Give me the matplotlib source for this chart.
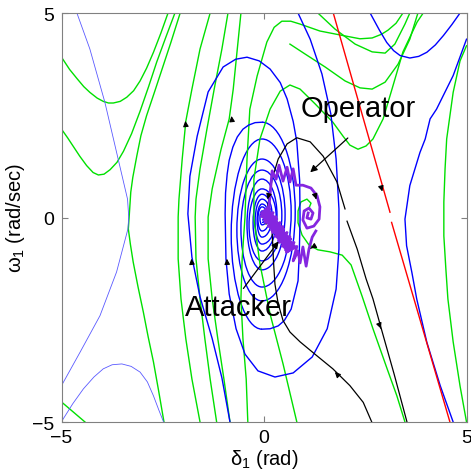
"""Phase portrait: attacker vs operator trajectories in the (delta1, omega1) plane."""
import matplotlib
matplotlib.use("Agg")
import matplotlib.pyplot as plt
from matplotlib.patches import Arc

plt.rcParams["font.family"] = ["Liberation Sans", "DejaVu Sans"]
plt.rcParams["mathtext.fontset"] = "custom"
plt.rcParams["mathtext.rm"] = "Liberation Sans"
plt.rcParams["mathtext.it"] = "Liberation Sans"

# ── traced curves, (delta1, omega1) pairs ────────────────────────────────────
# green family (post-operator system)
green_a = [(-5.0, 3.92), (-4.80, 3.62), (-4.62, 3.40), (-4.45, 3.20), (-4.30, 3.06), (-4.12, 2.92),
           (-3.97, 2.84), (-3.84, 2.80), (-3.72, 2.80), (-3.55, 2.84), (-3.39, 2.94), (-3.22, 3.10),
           (-3.06, 3.34), (-2.90, 3.65), (-2.73, 4.04), (-2.55, 4.50), (-2.37, 5.0)]
green_b = [(-5.0, 2.16), (-4.85, 1.95), (-4.71, 1.74), (-4.55, 1.50), (-4.38, 1.27), (-4.22, 1.10),
           (-4.09, 1.04), (-3.95, 1.06), (-3.80, 1.17), (-3.63, 1.35), (-3.47, 1.62), (-3.27, 2.05),
           (-3.06, 2.60), (-2.85, 3.20), (-2.65, 3.80), (-2.42, 4.42), (-2.20, 5.0)]
green_c = [(-2.07, 5.0), (-2.30, 4.28), (-2.49, 3.71), (-2.70, 3.08), (-2.90, 2.49), (-3.04, 2.00),
           (-3.14, 1.51), (-3.24, 0.98), (-3.29, 0.62), (-3.33, 0.01), (-3.35, -0.28), (-3.30, -0.65),
           (-3.23, -1.09), (-3.11, -1.70), (-2.98, -2.31), (-2.86, -2.92), (-2.73, -3.53), (-2.60, -4.25),
           (-2.47, -5.0)]
green_corner = [(-5.0, -4.51), (-4.42, -5.0)]
green_d = [(-1.33, 5.0), (-1.58, 4.12), (-1.78, 3.14), (-1.93, 2.36), (-2.02, 1.43), (-2.10, 0.45),
           (-2.12, 0.01), (-2.12, -1.01), (-2.05, -1.99), (-1.93, -2.97), (-1.78, -3.95), (-1.58, -5.0)]
green_e = [(-0.89, 5.0), (-1.04, 4.12), (-1.23, 3.14), (-1.41, 2.16), (-1.58, 1.19), (-1.68, 0.45),
           (-1.70, 0.01), (-1.68, -1.01), (-1.58, -1.99), (-1.46, -2.97), (-1.33, -3.95), (-1.17, -5.0)]
green_f = [(-0.57, 5.0), (-0.66, 4.12), (-0.76, 3.14), (-0.86, 2.41), (-1.06, 1.67), (-1.28, 0.70),
           (-1.38, 0.01), (-1.38, -1.01), (-1.28, -1.99), (-1.14, -2.97), (-0.99, -3.95), (-0.84, -5.0)]
green_g1 = [(-0.40, -5.0), (-0.44, -3.95), (-0.52, -2.97), (-0.57, -1.99), (-0.54, -1.01), (-0.47, 0.01),
            (-0.42, 1.43), (-0.35, 2.65), (-0.17, 3.46), (0.07, 4.29), (0.25, 4.65), (0.44, 4.80),
            (0.66, 4.80), (0.89, 4.73), (1.38, 4.56), (2.0, 4.44), (2.37, 4.37), (2.67, 4.39),
            (2.90, 4.48), (3.06, 4.58), (3.26, 4.75), (3.43, 5.0)]
green_g2 = [(0.81, -5.0), (0.47, -3.58), (0.15, -2.36), (-0.10, -1.14), (-0.25, -0.04), (-0.25, 0.94),
            (-0.10, 1.92), (0.15, 2.65), (0.40, 3.09), (0.64, 3.24), (0.89, 3.14), (1.26, 2.78),
            (1.70, 2.33), (1.95, 1.99), (2.12, 1.77), (2.32, 1.67), (2.52, 1.75), (2.69, 1.92),
            (2.94, 2.41), (3.16, 3.14), (3.43, 4.05), (3.78, 4.78), (3.93, 5.0)]
green_u2 = [(1.33, 5.0), (1.75, 4.61), (2.25, 4.24), (2.67, 4.05), (2.99, 4.02), (3.23, 4.24),
            (3.48, 4.73), (3.60, 5.0)]
green_u3 = [(0.64, 4.24), (1.01, 4.00), (1.51, 3.68), (2.0, 3.34), (2.37, 3.17), (2.67, 3.14),
            (2.99, 3.31), (3.31, 3.75), (3.60, 4.36), (3.80, 5.0)]
green_spiral = [(1.01, 0.16), (1.11, 0.23), (1.16, 0.35), (1.06, 0.45), (0.91, 0.38), (0.84, 0.16),
                (0.84, -0.13), (0.94, -0.43), (1.11, -0.67), (1.33, -0.79), (1.63, -0.84), (1.93, -0.92),
                (2.15, -1.16), (2.42, -1.92), (2.69, -2.72), (3.04, -3.70), (3.28, -4.36), (3.48, -5.0)]
green_right = [(5.0, 4.20), (4.84, 3.83), (4.67, 3.06), (4.51, 1.92), (4.47, 1.19), (4.44, 0.38),
               (4.44, -0.45), (4.49, -1.26), (4.54, -1.99), (4.67, -3.04), (4.84, -4.12), (5.0, -5.0)]

# blue family (pre-attack system): outer legs traced, inner turns given by their extremes
blue_outer = [(0.84, 5.0), (1.14, 4.36), (1.43, 3.51), (1.65, 2.53), (1.78, 1.43), (1.85, 0.21),
              (1.85, -0.77), (1.78, -1.75), (1.56, -2.72), (1.19, -3.41), (0.72, -3.80), (0.27, -3.90),
              (-0.15, -3.75), (-0.47, -3.34), (-0.69, -2.72), (-0.86, -1.87), (-0.94, -1.01), (-0.96, 0.09),
              (-0.95, 0.60), (-0.91, 1.06), (-0.86, 1.40), (-0.77, 1.72), (-0.66, 1.97), (-0.52, 2.16),
              (-0.38, 2.26), (-0.22, 2.32), (-0.05, 2.33)]
blue_left = [(-0.84, -5.0), (-1.04, -3.92), (-1.28, -2.96), (-1.58, -1.94), (-1.78, -0.97), (-1.88, 0.09),
             (-1.83, 1.01), (-1.65, 1.99), (-1.38, 3.07), (-1.01, 3.68), (-0.70, 3.87), (-0.42, 3.92),
             (-0.12, 3.83), (0.15, 3.63), (0.40, 3.30), (0.57, 2.90), (0.72, 2.35), (0.81, 1.85),
             (0.88, 0.90), (0.89, -0.04), (0.87, -0.90), (0.84, -1.55), (0.67, -2.24), (0.50, -2.52),
             (0.35, -2.65), (0.15, -2.72), (-0.05, -2.73)]
spiral_x = -0.05
# outer spiral continues from its top: top -> right -> bottom -> left -> top ...
outer_tops = [2.33, 1.43, 0.94, 0.57, 0.33, 0.16]
outer_rights = [0.77, 0.52, 0.32, 0.20, 0.10, 0.05]
outer_bottoms = [-2.04, -1.28, -0.82, -0.48, -0.18, -0.06]
outer_lefts = [-0.67, -0.42, -0.27, -0.17, -0.10]
# left spiral continues from its bottom: bottom -> left -> top -> right -> bottom ...
left_bottoms = [-2.73, -1.70, -1.06, -0.65, -0.33, -0.12]
left_lefts = [-0.81, -0.57, -0.37, -0.22, -0.15]
left_tops = [1.92, 1.16, 0.70, 0.45, 0.26]
left_rights = [0.67, 0.44, 0.30, 0.15, 0.07]

blue_top_right = [(2.62, 5.0), (2.85, 4.58), (3.03, 4.28), (3.20, 4.08), (3.36, 3.96), (3.60, 3.90),
                  (3.82, 3.94), (4.02, 4.04), (4.23, 4.22), (4.43, 4.45), (4.64, 4.72), (4.84, 5.0)]
blue_right = [(5.0, 4.36), (4.67, 3.47), (4.26, 2.65), (4.10, 2.41), (3.98, 1.92), (3.85, 1.59),
              (3.60, 0.78), (3.48, -0.04), (3.52, -0.69), (3.65, -1.34), (3.77, -1.99), (4.02, -3.05),
              (4.35, -4.11), (4.67, -5.0)]
thin_blue_1 = [(-4.62, 5.0), (-4.30, 4.12), (-3.93, 2.82), (-3.63, 1.55), (-3.37, 0.45), (-3.34, 0.01),
               (-3.36, -0.28), (-3.64, -1.33), (-4.05, -2.40), (-4.54, -3.29), (-5.0, -4.11)]
thin_blue_2 = [(-5.0, -4.99), (-4.72, -4.55), (-4.46, -4.19), (-4.20, -3.90), (-3.97, -3.70),
               (-3.75, -3.60), (-3.51, -3.58), (-3.28, -3.64), (-3.06, -3.78), (-2.88, -4.02),
               (-2.73, -4.36), (-2.60, -4.70), (-2.48, -5.0)]

# red boundary (split at omega = 0)
red_upper = [(1.71, 5.0), (3.11, 0.13)]
red_lower = [(3.15, -0.12), (4.59, -5.0)]

# black trajectories
black_up = [(0.05, -0.16), (0.10, 0.33), (0.20, 0.94), (0.35, 1.43), (0.57, 1.80), (0.81, 1.95),
            (1.14, 1.85), (1.46, 1.50), (1.80, 0.87), (2.0, 0.21)]
black_up_tail = [(2.05, -0.09), (2.30, -0.77), (2.52, -1.50), (2.69, -1.99), (2.91, -2.77), (3.21, -3.82),
                 (3.53, -5.0)]
black_low = [(2.66, -5.0), (2.45, -4.52), (2.12, -4.11), (1.70, -3.70), (1.28, -3.36), (0.89, -3.04),
             (0.64, -2.80), (0.47, -2.52), (0.35, -2.11), (0.27, -1.63), (0.23, -1.01), (0.22, -0.72),
             (0.20, -0.40)]

# purple: attacker noise band and operator swing
purple_attack = [(0.121, 0.263), (-0.068, 0.098), (0.144, 0.207), (-0.069, 0.024), (0.142, 0.133),
                 (-0.011, -0.007), (0.225, 0.118), (0.012, -0.065), (0.223, 0.044), (0.034, -0.121),
                 (0.294, 0.020), (0.105, -0.145), (0.316, -0.036), (0.103, -0.218), (0.315, -0.110),
                 (0.162, -0.250), (0.397, -0.125), (0.184, -0.307), (0.396, -0.199), (0.207, -0.364),
                 (0.466, -0.222), (0.277, -0.387), (0.489, -0.279), (0.276, -0.461), (0.487, -0.352),
                 (0.334, -0.492), (0.570, -0.368), (0.357, -0.550), (0.568, -0.441), (0.379, -0.606),
                 (0.639, -0.465), (0.450, -0.630), (0.661, -0.521), (0.448, -0.703), (0.660, -0.595),
                 (0.507, -0.735), (0.742, -0.610), (0.529, -0.792), (0.741, -0.684), (0.552, -0.849),
                 (0.811, -0.707), (0.72, -1.06), (0.84, -0.82), (0.89, -1.11), (0.96, -0.72),
                 (1.04, -1.19), (1.11, -0.77), (1.19, -0.48), (1.28, -0.33)]
purple_operator = [(0.10, 0.01), (0.15, 0.57), (0.20, 1.14), (0.30, 0.94), (0.37, 1.28), (0.47, 0.89),
                   (0.57, 1.23), (0.64, 0.87), (0.72, 1.19), (0.79, 0.79), (0.96, 0.79), (1.16, 0.72),
                   (1.31, 0.53), (1.38, 0.26), (1.36, -0.04), (1.23, -0.21), (1.06, -0.26), (0.96, -0.06),
                   (0.99, 0.16), (1.11, 0.23), (1.21, 0.11), (1.16, -0.04), (1.06, -0.01), (1.09, 0.11)]

# direction arrowheads: (tip, tail)
arrow_marks = [((-1.95, 2.43), (-1.93, 2.24)), ((-0.81, 2.55), (-0.79, 2.36)),
               ((-1.80, -0.94), (-1.78, -1.13)), ((-0.92, -0.94), (-0.91, -1.13)),
               ((2.94, 0.57), (2.89, 0.75)), ((2.91, -2.78), (2.86, -2.65)),
               ((1.70, -3.73), (1.85, -3.88)), ((0.07, 0.38), (0.12, 0.57)),
               ((1.31, 0.38), (1.26, 0.55)), ((1.09, -0.79), (1.21, -0.72))]

labels = {"Operator": ((2.33, 2.68), (2.12, 1.99), (1.09, 1.06)),
          "Attacker": ((-0.62, -2.18), (-0.55, -1.79), (0.40, -0.53))}

GREEN, BLUE, RED, PURPLE = "#00e000", "#0000ff", "#ff0000", "#8526e0"


def draw(ax, pts, **kw):
    xs, ys = zip(*pts)
    ax.plot(xs, ys, **kw)


def half_turn(ax, top, bottom, reach, right_side, **kw):
    """Half an ellipse between a top and a bottom extreme of a spiral turn."""
    if right_side:
        w, t1, t2 = 2 * (reach - spiral_x), -90, 90
    else:
        w, t1, t2 = 2 * (spiral_x - reach), 90, 270
    ax.add_patch(Arc((spiral_x, (top + bottom) / 2), w, top - bottom,
                     theta1=t1, theta2=t2, **kw))


def main():
    fig = plt.figure(figsize=(4.71, 4.77), dpi=100)
    ax = fig.add_axes([0.1306, 0.1132, 0.8599, 0.8574])

    for g in [green_a, green_b, green_c, green_corner, green_d, green_e, green_f,
              green_g1, green_g2, green_u2, green_u3, green_spiral, green_right]:
        draw(ax, g, color=GREEN, lw=1.0)

    bkw = dict(color=BLUE, lw=1.0)
    for b in [blue_outer, blue_left, blue_top_right, blue_right]:
        draw(ax, b, **bkw)
    for i, top in enumerate(outer_tops):
        half_turn(ax, top, outer_bottoms[i], outer_rights[i], True, **bkw)
        if i < len(outer_lefts):
            half_turn(ax, outer_tops[i + 1], outer_bottoms[i], outer_lefts[i], False, **bkw)
    for i, left in enumerate(left_lefts):
        half_turn(ax, left_tops[i], left_bottoms[i], left, False, **bkw)
        half_turn(ax, left_tops[i], left_bottoms[i + 1], left_rights[i], True, **bkw)

    for b in [thin_blue_1, thin_blue_2]:
        draw(ax, b, color="#5a5aff", lw=0.6)
    draw(ax, red_upper, color=RED, lw=1.0)
    draw(ax, red_lower, color=RED, lw=1.0)
    for k in [black_up, black_up_tail, black_low]:
        draw(ax, k, color="k", lw=0.9)
    draw(ax, purple_attack, color=PURPLE, lw=2.0)
    draw(ax, purple_operator, color=PURPLE, lw=2.0)

    for tip, tail in arrow_marks:
        ax.annotate("", xy=tip, xytext=tail,
                    arrowprops=dict(arrowstyle="-|>", color="k", lw=0.8, mutation_scale=8))

    for text, (pos, tail, head) in labels.items():
        ax.text(pos[0], pos[1], text, fontsize=21, ha="center", va="center")
        ax.annotate("", xy=head, xytext=tail,
                    arrowprops=dict(arrowstyle="-|>", color="k", lw=0.9, mutation_scale=10))

    ax.set_xlim(-5, 5)
    ax.set_ylim(-5, 5)
    ax.set_xticks([-5, 0, 5])
    ax.set_yticks([-5, 0, 5])
    ax.tick_params(direction="in", length=4, color="#808080", labelsize=14,
                   top=True, right=True, pad=5)
    for s in ax.spines.values():
        s.set_color("#808080")
    ax.set_xlabel(r"δ$_1$ (rad)", fontsize=14.5, labelpad=1)
    ax.set_ylabel(r"ω$_1$ (rad/sec)", fontsize=14.5, labelpad=4)

    fig.savefig("out.png", dpi=100)
    plt.close(fig)


if __name__ == "__main__":
    main()
